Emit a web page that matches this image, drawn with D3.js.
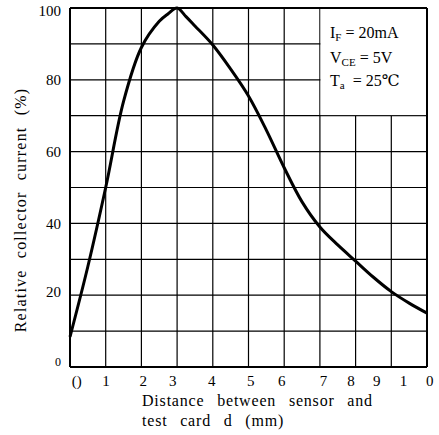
<!DOCTYPE html>
<html>
<head>
<meta charset="utf-8">
<script src="https://cdn.jsdelivr.net/npm/d3@7"></script>
<style>
  body { margin: 0; background: #fff; }
  text { font-family: "Liberation Serif", "DejaVu Serif", serif; fill: #000; }
</style>
</head>
<body>
<div id="chart"></div>
<script>
// curve
let distance = [0, 0.5, 1, 1.5, 2, 2.5, 2.75, 3, 3.25, 3.5, 4, 4.5, 5, 5.5, 6, 6.5, 7, 7.5, 8, 8.5, 9, 9.5, 10];
let current  = [8.4, 28, 50, 74, 89, 96.3, 98.4, 100, 97.6, 95, 89.7, 83, 75.5, 66, 55.5, 46, 39, 34, 29.5, 25, 21, 17.8, 15];

// tick labels as printed (the scan puts them a bit off the grid)
let xTickLabels = ["()", "1", "2", "3", "4", "5", "6", "7", "8", "9", "1", "0"];
let xTickAt     = [0.19, 1.01, 2.05, 2.88, 3.97, 5.06, 5.93, 7.1, 7.87, 8.59, 9.34, 10.08];
let yTickLabels = ["0", "20", "40", "60", "80", "100"];
let yTickAt     = [1.5, 21, 40, 60, 80, 99.2];

let gridX = d3.range(0, 11, 1);
let gridY = d3.range(0, 101, 10);

let margin = { top: 8, right: 12, bottom: 68, left: 70 };
let width = 439 - margin.left - margin.right;
let height = 435 - margin.top - margin.bottom;

let svg = d3.select("#chart")
    .append("svg")
    .attr("width", 439)
    .attr("height", 435);

let g = svg.append("g")
    .attr("transform", `translate(${margin.left}, ${margin.top})`);

let x = d3.scaleLinear().domain([0, 10]).range([0, width]);
let y = d3.scaleLinear().domain([0, 100]).range([height, 0]);

// grid
g.selectAll("line.vgrid")
    .data(gridX)
    .enter()
    .append("line")
    .attr("class", "vgrid")
    .attr("x1", d => x(d)).attr("x2", d => x(d))
    .attr("y1", 0).attr("y2", height)
    .attr("stroke", "#000")
    .attr("stroke-width", d => (d === 0 || d === 10) ? 2 : 1.2);

g.selectAll("line.hgrid")
    .data(gridY)
    .enter()
    .append("line")
    .attr("class", "hgrid")
    .attr("x1", 0).attr("x2", width)
    .attr("y1", d => y(d)).attr("y2", d => y(d))
    .attr("stroke", "#000")
    .attr("stroke-width", d => (d === 0 || d === 100) ? 2 : 1.2);

// white box for the conditions, blanking the grid under it
g.append("rect")
    .attr("x", x(7) + 0.6)
    .attr("y", y(100) + 1)
    .attr("width", x(10) - x(7) - 1.6)
    .attr("height", y(70) - y(100) - 1.6)
    .attr("fill", "#fff");

// curve
let line = d3.line()
    .x((d, i) => x(distance[i]))
    .y(d => y(d))
    .curve(d3.curveCatmullRom.alpha(0.5));

g.append("path")
    .datum(current)
    .attr("d", line)
    .attr("fill", "none")
    .attr("stroke", "#000")
    .attr("stroke-width", 3);

// tick labels
g.selectAll("text.xtick")
    .data(xTickLabels)
    .enter()
    .append("text")
    .attr("class", "xtick")
    .attr("x", (d, i) => x(xTickAt[i]))
    .attr("y", height + 19)
    .attr("text-anchor", "middle")
    .attr("font-size", 15)
    .text(d => d);

g.selectAll("text.ytick")
    .data(yTickLabels)
    .enter()
    .append("text")
    .attr("class", "ytick")
    .attr("x", -9)
    .attr("y", (d, i) => y(yTickAt[i]))
    .attr("dy", "0.35em")
    .attr("text-anchor", "end")
    .attr("font-size", (d, i) => i === 0 ? 12 : 15)
    .text(d => d);

// axis titles
svg.append("text")
    .attr("transform", "translate(26, 210) rotate(-90)")
    .attr("text-anchor", "middle")
    .attr("font-size", 16)
    .attr("letter-spacing", 1.2)
    .attr("word-spacing", 6)
    .text("Relative collector current (%)");

svg.append("text")
    .attr("x", 142)
    .attr("y", 406)
    .attr("font-size", 16)
    .attr("letter-spacing", 0.8)
    .attr("word-spacing", 8)
    .text("Distance between sensor and");

svg.append("text")
    .attr("x", 142)
    .attr("y", 426)
    .attr("font-size", 16)
    .attr("letter-spacing", 0.8)
    .attr("word-spacing", 8)
    .text("test card d (mm)");

// conditions
let conditions = [
    { main: "I", sub: "F", rest: " = 20mA" },
    { main: "V", sub: "CE", rest: " = 5V" },
    { main: "T", sub: "a", rest: "  = 25\u2103" }
];
let condY = [38, 63, 86];

let cond = svg.selectAll("text.cond")
    .data(conditions)
    .enter()
    .append("text")
    .attr("class", "cond")
    .attr("x", 330)
    .attr("y", (d, i) => condY[i])
    .attr("font-size", 16)
    .attr("xml:space", "preserve")
    .style("white-space", "pre");

cond.append("tspan").text(d => d.main);
cond.append("tspan").attr("dy", 3).attr("font-size", 11).text(d => d.sub);
cond.append("tspan").attr("dy", -3).text(d => d.rest);
</script>
</body>
</html>
